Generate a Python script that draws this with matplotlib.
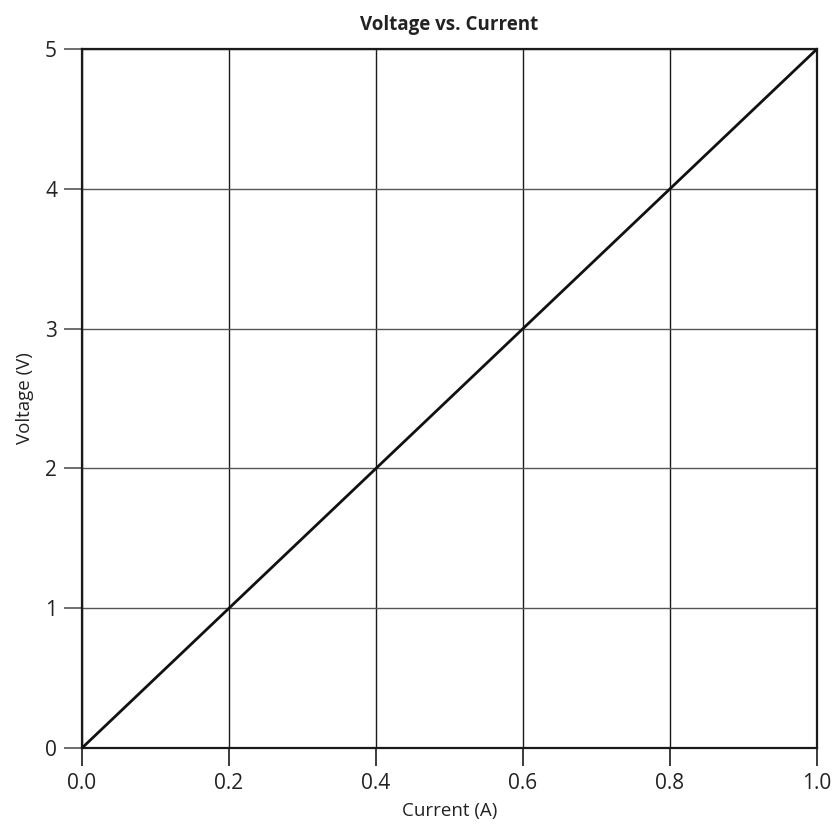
import matplotlib
matplotlib.use("Agg")
import matplotlib.pyplot as plt

plt.rcParams['font.family'] = ['Open Sans', 'DejaVu Sans']

current = [0.0, 0.2, 0.4, 0.6, 0.8, 1.0]
voltage = [0, 1, 2, 3, 4, 5]
xticks = [0.0, 0.2, 0.4, 0.6, 0.8, 1.0]
yticks = [0, 1, 2, 3, 4, 5]

fig = plt.figure(figsize=(8.34, 8.24), dpi=100)
W, H = 834, 824
ax = fig.add_axes([82 / W, 1 - 748 / H, (817 - 82) / W, (748 - 49) / H])
ax.plot(current, voltage, color='#111111', lw=2.0, zorder=3)
ax.set_xlim(0, 1)
ax.set_ylim(0, 5)
ax.set_xticks(xticks)
ax.set_xticklabels([f"{v:.1f}" for v in xticks])
ax.set_yticks(yticks)
ax.set_yticklabels([str(v) for v in yticks])
ax.xaxis.grid(True, color='#1a1a1a', lw=1.0)
ax.yaxis.grid(True, color='#555555', lw=1.0)
ax.set_axisbelow(True)
for s in ax.spines.values():
    s.set_linewidth(1.6)
    s.set_color('#1a1a1a')
ax.tick_params(axis='x', length=13, width=1.2, color='#1a1a1a', labelsize=15, pad=5, labelcolor='#222222')
ax.tick_params(axis='y', length=13, width=1.2, color='#555555', labelsize=15, pad=5, labelcolor='#222222')
ax.set_xlabel("Current (A)", fontsize=13.5, color='#222222', labelpad=6)
ax.set_ylabel("Voltage (V)", fontsize=13.5, color='#222222', labelpad=8)
ax.set_title("Voltage vs. Current", fontsize=13.5, fontweight='bold', color='#222222', pad=14)
fig.savefig("out.png", dpi=100)
